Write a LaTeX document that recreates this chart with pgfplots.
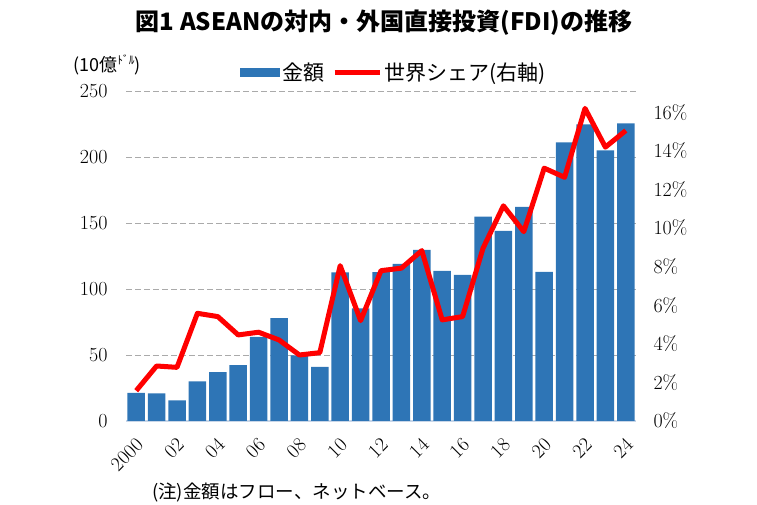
\documentclass[border=0pt]{standalone}
\usepackage{fontspec}
\usepackage{pgfplots}
\pgfplotsset{compat=1.18}
\newfontfamily\jp{Noto Sans CJK JP}
\definecolor{barblue}{RGB}{46,117,182}
\definecolor{gridgray}{RGB}{170,170,170}
\definecolor{axisline}{RGB}{200,214,232}
\newcommand\tickfont{\fontsize{20}{22}\selectfont\addfontfeatures{FakeStretch=1.15}}
\begin{document}
\begin{tikzpicture}
\useasboundingbox (0pt,0pt) rectangle (757pt,505pt);
\node[font={\jp\bfseries\fontsize{24}{27}\selectfont}] at (384pt,482pt) {図1 ASEANの対内・外国直接投資(FDI)の推移};
\node[font={\jp\fontsize{18}{20}\selectfont}, anchor=west, inner sep=0pt] at (73pt,440pt) {(10億\raisebox{0.35em}{\fontsize{11.5}{12}\selectfont ﾄﾞﾙ})};
\node[font={\jp\fontsize{18.5}{20}\selectfont}, anchor=west, inner sep=0pt] at (152pt,12pt) {(注)金額はフロー、ネットベース。};
\begin{axis}[
  at={(126pt,84pt)}, anchor=south west,
  scale only axis, width=510pt, height=330pt,
  xmin=-0.5, xmax=24.5, ymin=0, ymax=250,
  ybar, bar width=17.5pt,
  /pgf/number format/assume math mode=true,
  axis y line*=left, axis x line*=bottom,
  y axis line style={draw=none},
  x axis line style={draw=axisline, line width=2pt},
  major tick length=0pt,
  ytick={0,50,...,250},
  ymajorgrids, grid style={gridgray, line width=0.9pt, dash pattern=on 6pt off 3pt},
  xtick={0,2,...,24},
  xticklabels={2000,02,04,06,08,10,12,14,16,18,20,22,24},
  tick label style={font=\tickfont},
  yticklabel style={xshift=-15pt},
  xticklabel style={yshift=-18pt, xshift=6pt, rotate=45, anchor=east},
  legend columns=2,
  legend style={draw=none, fill=none, at={(0.525,1.055)}, anchor=center,
    font={\jp\fontsize{21}{24}\selectfont},
    /tikz/every even column/.append style={column sep=6pt}},
]
\addplot[fill=barblue, draw=none,
  legend image code/.code={\fill[barblue] (0pt,-4.5pt) rectangle (40pt,4.5pt);}]
  coordinates {
  (0,21.3) (1,21) (2,15.7) (3,30) (4,37) (5,42.4) (6,63.8) (7,78) (8,49.7) (9,41)
  (10,112.5) (11,85.4) (12,112.7) (13,119) (14,129.7) (15,113.7) (16,110.7)
  (17,154.8) (18,144) (19,162.3) (20,113) (21,211) (22,224.7) (23,205) (24,225.5)};
\addlegendentry{金額}
\addlegendimage{legend image code/.code={\draw[red, line width=5pt] (0pt,0pt) -- (45pt,0pt);}}
\addlegendentry{世界シェア(右軸)}
\end{axis}
\begin{axis}[
  at={(126pt,84pt)}, anchor=south west,
  scale only axis, width=510pt, height=330pt,
  xmin=-0.5, xmax=24.5, ymin=0, ymax=17.1,
  /pgf/number format/assume math mode=true,
  axis y line*=right, hide x axis,
  y axis line style={draw=none},
  major tick length=0pt,
  ytick={0,2,...,16},
  yticklabel={\pgfmathprintnumber{\tick}\%},
  tick label style={font=\tickfont},
  yticklabel style={xshift=14pt},
]
\addplot[red, line width=5pt, line join=round, mark=none] coordinates {
  (0,1.57) (1,2.85) (2,2.78) (3,5.58) (4,5.41) (5,4.46) (6,4.6) (7,4.2) (8,3.42) (9,3.54)
  (10,8.05) (11,5.2) (12,7.79) (13,7.92) (14,8.83) (15,5.24) (16,5.41) (17,8.95)
  (18,11.15) (19,9.81) (20,13.1) (21,12.63) (22,16.2) (23,14.19) (24,15.05)};
\end{axis}
\end{tikzpicture}
\end{document}
